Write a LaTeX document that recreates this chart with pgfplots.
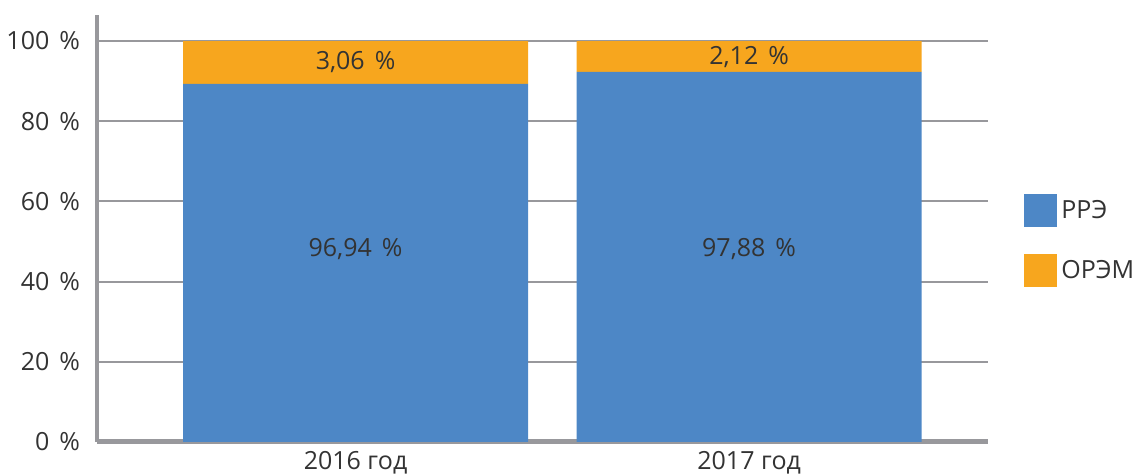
\documentclass[border=0pt]{standalone}
\usepackage{pgfplots}
\pgfplotsset{compat=1.18}
\usepackage{fontspec}
\setmainfont{Open Sans}
\definecolor{barblue}{RGB}{77,135,198}
\definecolor{barorange}{RGB}{247,166,30}
\definecolor{axgray}{RGB}{152,152,156}
\definecolor{txt}{RGB}{51,51,51}
\begin{document}
\begin{tikzpicture}
\begin{axis}[
  at={(0,0)}, anchor=south west,
  scale only axis,
  width=445.5pt, height=213.5pt,
  xmin=-0.657, xmax=1.607,
  ymin=0, ymax=106.5,
  ybar stacked, bar width=172.5pt,
  axis x line=bottom, axis y line=left,
  axis line style={-, axgray},
  x axis line style={line width=2.5pt},
  y axis line style={line width=2pt},
  xtick={0,1}, xticklabels={2016 год, 2017 год},
  ytick={0,20,40,60,80,100},
  yticklabel={\pgfmathprintnumber{\tick}\hspace{0.4em}\%},
  major tick length=0pt,
  ymajorgrids, grid style={axgray, line width=1pt},
  tick label style={font=\fontsize{12.5}{14}\selectfont, text=txt},
  /pgf/number format/assume math mode=true,
  yticklabel style={xshift=-5pt},
  xticklabel style={yshift=-1pt},
  legend style={draw=none, fill=none, at={(1.0404,0.581)}, anchor=north west,
    font=\fontsize{12.5}{14}\selectfont, text=txt, inner sep=0pt,
    row sep=13.5pt},
  legend cell align=left,
  legend image code/.code={\fill[#1] (0pt,-8.25pt) rectangle (16.5pt,8.25pt);},
]
\addplot[fill=barblue, draw=none] coordinates {(0,89.3) (1,92.3)};
\addplot[fill=barorange, draw=none] coordinates {(0,10.7) (1,7.7)};
\legend{РРЭ,ОРЭМ}
\coordinate (la) at (axis cs:0,48.0);
\coordinate (lb) at (axis cs:1,48.0);
\coordinate (lc) at (axis cs:0,94.8);
\coordinate (ld) at (axis cs:1,96.0);
\end{axis}
\begin{scope}[every node/.style={font=\fontsize{12.5}{14}\selectfont, text=txt}]
\node at (la) {96,94\hspace{0.4em}\%};
\node at (lb) {97,88\hspace{0.4em}\%};
\node at (lc) {3,06\hspace{0.4em}\%};
\node at (ld) {2,12\hspace{0.4em}\%};
\end{scope}
\pgfresetboundingbox
\path[use as bounding box] (-48.5pt,-16pt) rectangle (522.5pt,221pt);
\end{tikzpicture}
\end{document}
